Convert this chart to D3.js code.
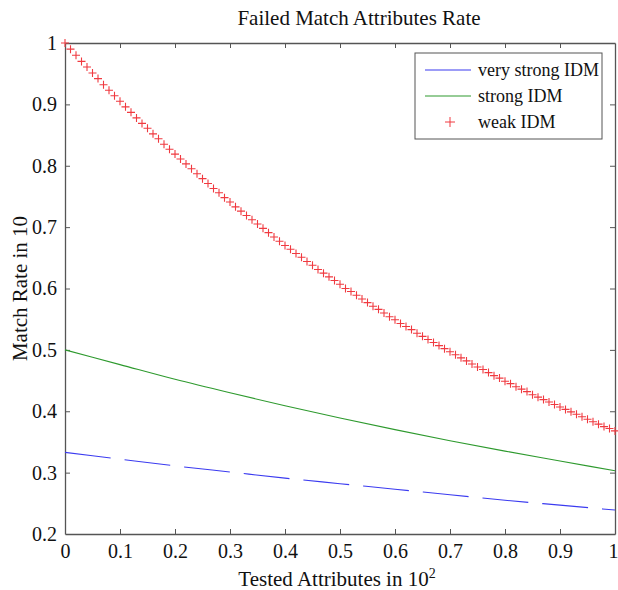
<!DOCTYPE html>
<html>
<head>
<meta charset="utf-8">
<script src="https://cdn.jsdelivr.net/npm/d3@7"></script>
<style>
  body { margin: 0; background: #fff; }
</style>
</head>
<body>
<div id="chart"></div>
<script>
// values
const weakX = d3.range(0, 101).map(i => i / 100);
const weakIDM = [
  1.000, 0.990, 0.980, 0.970, 0.961, 0.951, 0.942, 0.932, 0.923, 0.914,
  0.905, 0.896, 0.887, 0.878, 0.869, 0.861, 0.852, 0.844, 0.835, 0.827,
  0.819, 0.811, 0.803, 0.795, 0.787, 0.779, 0.771, 0.763, 0.756, 0.748,
  0.741, 0.733, 0.726, 0.719, 0.712, 0.705, 0.698, 0.691, 0.684, 0.677,
  0.670, 0.664, 0.657, 0.651, 0.644, 0.638, 0.631, 0.625, 0.619, 0.613,
  0.607, 0.600, 0.595, 0.589, 0.583, 0.577, 0.571, 0.566, 0.560, 0.554,
  0.549, 0.543, 0.538, 0.533, 0.527, 0.522, 0.517, 0.512, 0.507, 0.502,
  0.497, 0.492, 0.487, 0.482, 0.477, 0.472, 0.468, 0.463, 0.458, 0.454,
  0.449, 0.445, 0.440, 0.436, 0.432, 0.427, 0.423, 0.419, 0.415, 0.411,
  0.407, 0.403, 0.399, 0.395, 0.391, 0.387, 0.383, 0.379, 0.375, 0.372,
  0.368
];
const lineX = [0, 0.1, 0.2, 0.3, 0.4, 0.5, 0.6, 0.7, 0.8, 0.9, 1.0];
const strongIDM = [0.500, 0.476, 0.452, 0.430, 0.409, 0.389, 0.370, 0.352, 0.335, 0.319, 0.303];
const veryStrongIDM = [0.333, 0.322, 0.311, 0.301, 0.291, 0.282, 0.273, 0.264, 0.255, 0.247, 0.239];
const xTicks = [0, 0.1, 0.2, 0.3, 0.4, 0.5, 0.6, 0.7, 0.8, 0.9, 1];
const yTicks = [0.2, 0.3, 0.4, 0.5, 0.6, 0.7, 0.8, 0.9, 1];

const width = 618, height = 590;
const margin = {top: 43, right: 3, bottom: 56, left: 65};
const serif = "'Liberation Serif', 'Times New Roman', serif";

const svg = d3.select("#chart").append("svg")
    .attr("width", width)
    .attr("height", height);

const x = d3.scaleLinear().domain([0, 1]).range([margin.left, width - margin.right]);
const y = d3.scaleLinear().domain([0.2, 1]).range([height - margin.bottom, margin.top]);

const axisColor = "#555";

// axes with inward ticks, on all four sides
const bottomAxis = svg.append("g")
    .attr("transform", `translate(0,${y(0.2)})`)
    .call(d3.axisBottom(x).tickValues(xTicks).tickSizeInner(-5).tickSizeOuter(0)
        .tickPadding(10).tickFormat(d3.format("")));
const leftAxis = svg.append("g")
    .attr("transform", `translate(${x(0)},0)`)
    .call(d3.axisLeft(y).tickValues(yTicks).tickSizeInner(-5).tickSizeOuter(0)
        .tickPadding(8).tickFormat(d3.format("")));
const topAxis = svg.append("g")
    .attr("transform", `translate(0,${y(1)})`)
    .call(d3.axisTop(x).tickValues(xTicks).tickSizeInner(-5).tickSizeOuter(0).tickFormat(""));
const rightAxis = svg.append("g")
    .attr("transform", `translate(${x(1)},0)`)
    .call(d3.axisRight(y).tickValues(yTicks).tickSizeInner(-5).tickSizeOuter(0).tickFormat(""));

[bottomAxis, leftAxis, topAxis, rightAxis].forEach(g => {
  g.attr("font-family", null).attr("font-size", null);
  g.select(".domain").attr("stroke", axisColor).attr("stroke-width", 1.3);
  g.selectAll(".tick line").attr("stroke", axisColor);
  g.selectAll(".tick text")
      .style("font-family", serif)
      .style("font-size", "20px")
      .attr("fill", "#111");
});
// no tick marks at the corners
bottomAxis.selectAll(".tick line").filter(d => d === 0 || d === 1).remove();
leftAxis.selectAll(".tick line").filter(d => d === 0.2 || d === 1).remove();
topAxis.selectAll(".tick line").filter(d => d === 0 || d === 1).remove();
rightAxis.selectAll(".tick line").filter(d => d === 0.2 || d === 1).remove();
// last x label sits at the page edge
bottomAxis.selectAll(".tick text").filter(d => d === 1).attr("dx", -2);

// lines
const line = d3.line()
    .x((d, i) => x(lineX[i]))
    .y(d => y(d))
    .curve(d3.curveMonotoneX);

svg.append("path")
    .datum(veryStrongIDM)
    .attr("d", line)
    .attr("fill", "none")
    .attr("stroke", "#3b3bf0")
    .attr("stroke-width", 1.1)
    .attr("stroke-dasharray", "46,14");

svg.append("path")
    .datum(strongIDM)
    .attr("d", line)
    .attr("fill", "none")
    .attr("stroke", "#2e9a2e")
    .attr("stroke-width", 1.1);

// weak IDM crosses
const crossSize = 4;
const crosses = svg.append("g")
    .attr("stroke", "#f03a40")
    .attr("stroke-width", 1.1);
crosses.selectAll("path")
    .data(weakIDM)
    .enter().append("path")
    .attr("d", (d, i) => {
      const cx = x(weakX[i]), cy = y(d);
      return `M${cx - crossSize},${cy}H${cx + crossSize}M${cx},${cy - crossSize}V${cy + crossSize}`;
    });

// legend
const legend = svg.append("g");
legend.append("rect")
    .attr("x", 415).attr("y", 53)
    .attr("width", 187).attr("height", 86)
    .attr("fill", "#fff")
    .attr("stroke", axisColor)
    .attr("stroke-width", 1);

const legendItems = [
  {label: "very strong IDM", color: "#3b3bf0", type: "line"},
  {label: "strong IDM", color: "#2e9a2e", type: "line"},
  {label: "weak IDM", color: "#f03a40", type: "cross"}
];
legendItems.forEach((d, i) => {
  const ly = 70 + i * 26;
  if (d.type === "line") {
    legend.append("line")
        .attr("x1", 425).attr("x2", 471)
        .attr("y1", ly).attr("y2", ly)
        .attr("stroke", d.color).attr("stroke-width", 1.1);
  } else {
    legend.append("path")
        .attr("d", `M${450 - 5},${ly}H${450 + 5}M450,${ly - 5}V${ly + 5}`)
        .attr("stroke", d.color).attr("stroke-width", 1);
  }
  legend.append("text")
      .attr("x", 478).attr("y", ly + 6)
      .style("font-family", serif)
      .style("font-size", "18px")
      .attr("fill", "#111")
      .text(d.label);
});

// title and axis labels
svg.append("text")
    .attr("x", 359).attr("y", 25)
    .attr("text-anchor", "middle")
    .style("font-family", serif)
    .style("font-size", "21px")
    .attr("fill", "#111")
    .text("Failed Match Attributes Rate");

const xLabel = svg.append("text")
    .attr("x", 337).attr("y", 586)
    .attr("text-anchor", "middle")
    .style("font-family", serif)
    .style("font-size", "21px")
    .attr("fill", "#111");
xLabel.append("tspan").text("Tested Attributes in 10");
xLabel.append("tspan").style("font-size", "14px").attr("dy", -8).text("2");

svg.append("text")
    .attr("transform", `translate(27,${(y(0.2) + y(1)) / 2}) rotate(-90)`)
    .attr("text-anchor", "middle")
    .style("font-family", serif)
    .style("font-size", "21px")
    .attr("fill", "#111")
    .text("Match Rate in 10");
</script>
</body>
</html>
